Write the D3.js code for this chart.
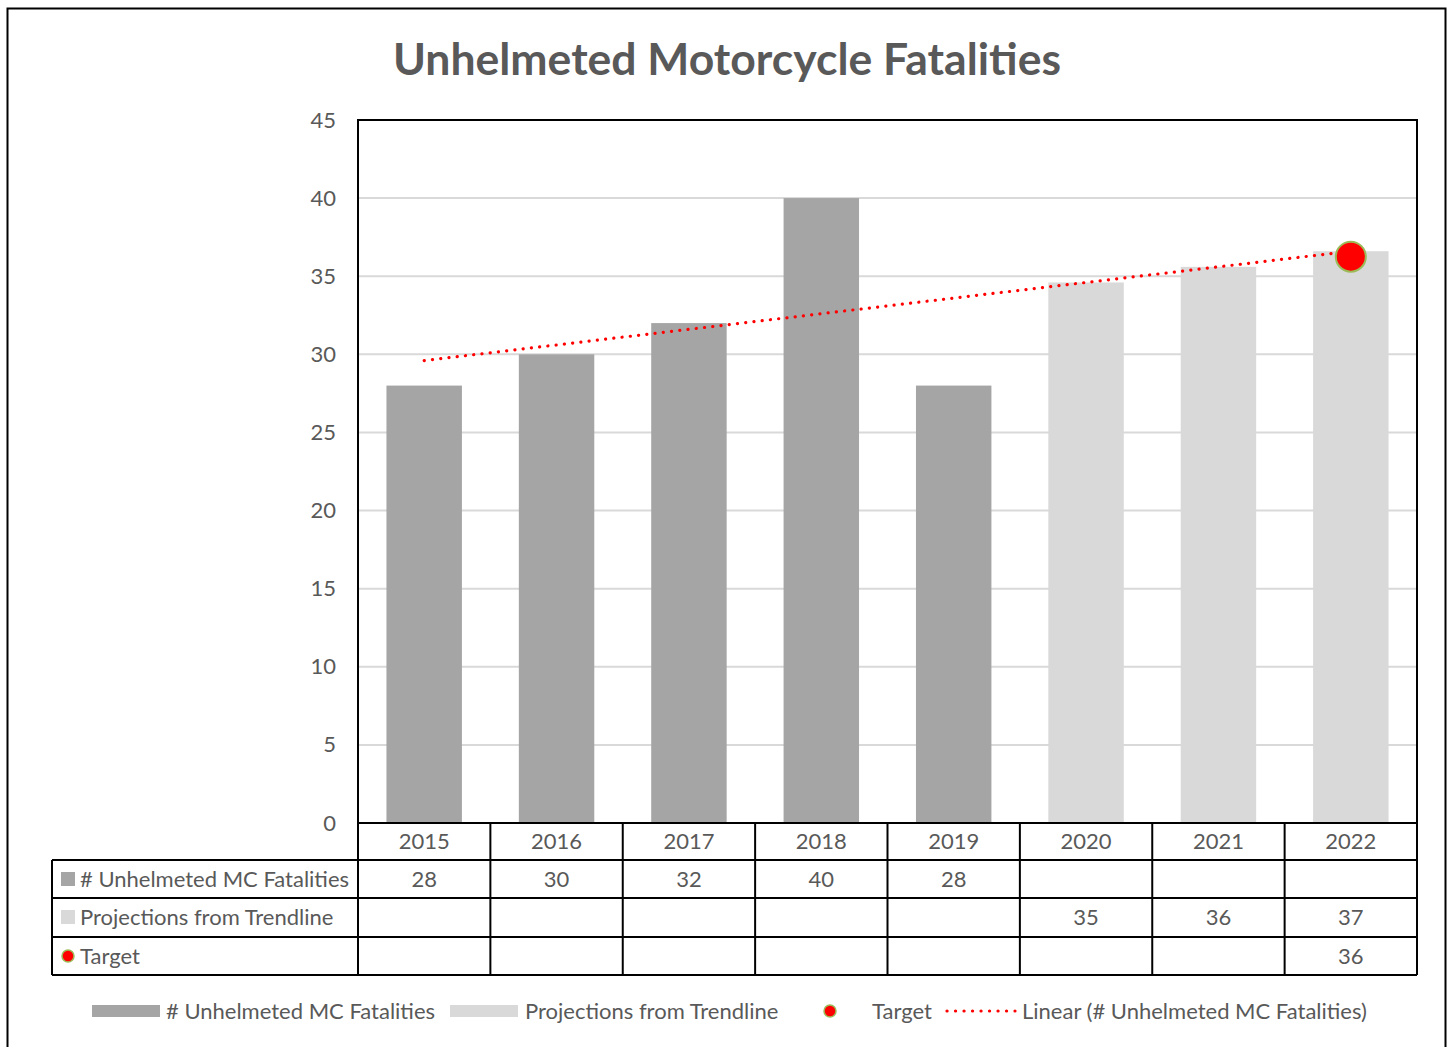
<!DOCTYPE html>
<html>
<head>
<meta charset="utf-8">
<script src="https://cdn.jsdelivr.net/npm/d3@7"></script>
<style>
  body { margin: 0; background: #fff; }
  svg text { font-family: Lato, "Open Sans", sans-serif; fill: #595959; }
</style>
</head>
<body>
<div id="chart"></div>
<script>
// chart data
let years = ["2015", "2016", "2017", "2018", "2019", "2020", "2021", "2022"];
let fatalities = [28, 30, 32, 40, 28, null, null, null];
let projections = [null, null, null, null, null, 34.6, 35.6, 36.6];
let target = [null, null, null, null, null, null, null, 36.25];
let yTicks = [0, 5, 10, 15, 20, 25, 30, 35, 40, 45];
let rowNames = ["# Unhelmeted MC Fatalities", "Projections from Trendline", "Target"];
let legendNames = ["# Unhelmeted MC Fatalities", "Projections from Trendline", "Target", "Linear (# Unhelmeted MC Fatalities)"];

let width = 1453, height = 1047;
let plotLeft = 358, plotRight = 1417, plotTop = 120, plotBottom = 823;
let tableLeft = 52;
let rowH = [37, 38, 39, 38];
let fs = 22;

let svg = d3.select("#chart").append("svg")
  .attr("width", width).attr("height", height);

// outer frame
svg.append("rect").attr("x", 7.5).attr("y", 8.5).attr("width", 1438).attr("height", 1060)
  .attr("fill", "none").attr("stroke", "#000").attr("stroke-width", 2);

svg.append("text").attr("x", 727).attr("y", 75).attr("text-anchor", "middle")
  .attr("font-size", 44.5).attr("font-weight", "bold").text("Unhelmeted Motorcycle Fatalities");

let x = d3.scaleBand().domain(years).range([plotLeft, plotRight]).paddingInner(0.43).paddingOuter(0.215);
let xc = d3.scaleBand().domain(years).range([plotLeft, plotRight]);
let y = d3.scaleLinear().domain([0, 45]).range([plotBottom, plotTop]);

// gridlines
svg.append("g").selectAll("line").data(yTicks).enter().append("line")
  .attr("x1", plotLeft).attr("x2", plotRight)
  .attr("y1", d => y(d)).attr("y2", d => y(d))
  .attr("stroke", "#d9d9d9").attr("stroke-width", 2);

// y axis labels
let yAxis = d3.axisLeft(y).tickValues(yTicks).tickSize(0).tickPadding(22);
let ya = svg.append("g").attr("transform", `translate(${plotLeft},0)`).call(yAxis);
ya.select(".domain").remove();
ya.selectAll("text").attr("font-size", fs).attr("fill", "#595959")
  .style("font-family", "Lato, 'Open Sans', sans-serif");

// bars
svg.append("g").selectAll("rect").data(years.filter((d, i) => fatalities[i] != null)).enter().append("rect")
  .attr("x", d => x(d)).attr("width", x.bandwidth())
  .attr("y", d => y(fatalities[years.indexOf(d)]))
  .attr("height", d => plotBottom - y(fatalities[years.indexOf(d)]))
  .attr("fill", "#a5a5a5");
svg.append("g").selectAll("rect").data(years.filter((d, i) => projections[i] != null)).enter().append("rect")
  .attr("x", d => x(d)).attr("width", x.bandwidth())
  .attr("y", d => y(projections[years.indexOf(d)]))
  .attr("height", d => plotBottom - y(projections[years.indexOf(d)]))
  .attr("fill", "#d9d9d9");

// linear trendline on the actual values
let pts = fatalities.map((v, i) => [i + 1, v]).filter(p => p[1] != null);
let mx = d3.mean(pts, p => p[0]), my = d3.mean(pts, p => p[1]);
let slope = d3.sum(pts, p => (p[0] - mx) * (p[1] - my)) / d3.sum(pts, p => (p[0] - mx) * (p[0] - mx));
let icpt = my - slope * mx;
let trend = years.map((d, i) => [d, icpt + slope * (i + 1)]);
let line = d3.line().x(d => x(d[0]) + x.bandwidth() / 2).y(d => y(d[1]));
svg.append("path").datum([trend[0], trend[trend.length - 1]]).attr("d", line)
  .attr("fill", "none").attr("stroke", "#ff0000").attr("stroke-width", 3.2)
  .attr("stroke-dasharray", "0.1 8.2").attr("stroke-linecap", "round");

// target marker
svg.append("g").selectAll("circle").data(years.filter((d, i) => target[i] != null)).enter().append("circle")
  .attr("cx", d => x(d) + x.bandwidth() / 2).attr("cy", d => y(target[years.indexOf(d)]))
  .attr("r", 15).attr("fill", "#ff0000").attr("stroke", "#9bbb59").attr("stroke-width", 2);

// plot border
svg.append("rect").attr("x", plotLeft).attr("y", plotTop).attr("width", plotRight - plotLeft).attr("height", plotBottom - plotTop)
  .attr("fill", "none").attr("stroke", "#000").attr("stroke-width", 2);

// data table
let rowY = [plotBottom];
rowH.forEach((h, i) => rowY.push(rowY[i] + h));
let tg = svg.append("g");
function hl(x1, x2, yy) {
  tg.append("line").attr("x1", x1).attr("x2", x2).attr("y1", yy).attr("y2", yy).attr("stroke", "#000").attr("stroke-width", 2);
}
function vl(xx, y1, y2) {
  tg.append("line").attr("x1", xx).attr("x2", xx).attr("y1", y1).attr("y2", y2).attr("stroke", "#000").attr("stroke-width", 2);
}
hl(plotLeft, plotRight, rowY[1]);
for (let i = 2; i <= 4; i++) hl(tableLeft, plotRight, rowY[i]);
hl(tableLeft, plotLeft, rowY[1]);
vl(tableLeft, rowY[1], rowY[4]);
years.forEach(d => vl(xc(d), plotBottom, rowY[4]));
vl(plotRight, plotBottom, rowY[4]);

years.forEach(d => {
  tg.append("text").attr("x", xc(d) + xc.bandwidth() / 2).attr("y", rowY[0] + 26)
    .attr("text-anchor", "middle").attr("font-size", fs).text(d);
});
let series = [fatalities, projections, target];
series.forEach((s, r) => {
  s.forEach((v, i) => {
    if (v == null) return;
    tg.append("text").attr("x", xc(years[i]) + xc.bandwidth() / 2).attr("y", rowY[r + 1] + 27)
      .attr("text-anchor", "middle").attr("font-size", fs).text(Math.round(v));
  });
  tg.append("text").attr("x", 80).attr("y", rowY[r + 1] + 27).attr("font-size", fs).text(rowNames[r]);
});
tg.append("rect").attr("x", 61).attr("y", rowY[1] + 12).attr("width", 14).attr("height", 14).attr("fill", "#a5a5a5");
tg.append("rect").attr("x", 61).attr("y", rowY[2] + 12).attr("width", 14).attr("height", 14).attr("fill", "#d9d9d9");
tg.append("circle").attr("cx", 68).attr("cy", rowY[3] + 19).attr("r", 6)
  .attr("fill", "#ff0000").attr("stroke", "#9bbb59").attr("stroke-width", 1.5);

// legend
let lg = svg.append("g");
let ly = 1011;
lg.append("rect").attr("x", 92).attr("y", ly - 6).attr("width", 68).attr("height", 12).attr("fill", "#a5a5a5");
lg.append("text").attr("x", 166).attr("y", ly + 8).attr("font-size", fs).text(legendNames[0]);
lg.append("rect").attr("x", 450).attr("y", ly - 6).attr("width", 68).attr("height", 12).attr("fill", "#d9d9d9");
lg.append("text").attr("x", 525).attr("y", ly + 8).attr("font-size", fs).text(legendNames[1]);
lg.append("circle").attr("cx", 830).attr("cy", ly).attr("r", 6)
  .attr("fill", "#ff0000").attr("stroke", "#9bbb59").attr("stroke-width", 1.5);
lg.append("text").attr("x", 872).attr("y", ly + 8).attr("font-size", fs).text(legendNames[2]);
lg.append("line").attr("x1", 947).attr("x2", 1015).attr("y1", ly).attr("y2", ly)
  .attr("stroke", "#ff0000").attr("stroke-width", 3.2).attr("stroke-dasharray", "0.1 8.4").attr("stroke-linecap", "round");
lg.append("text").attr("x", 1022).attr("y", ly + 8).attr("font-size", fs).text(legendNames[3]);
</script>
</body>
</html>
